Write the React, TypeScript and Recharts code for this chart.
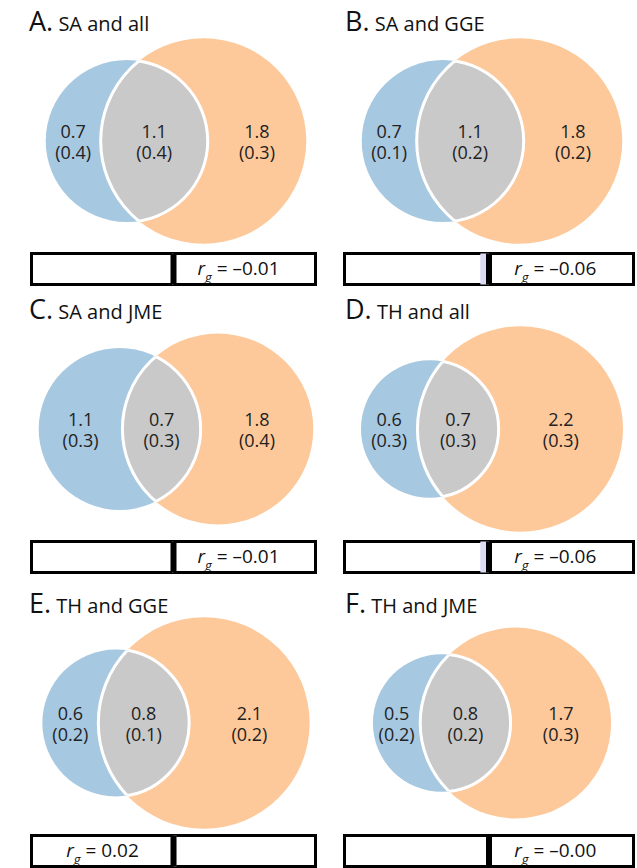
import React from 'react';
import {
  ScatterChart, Scatter, XAxis, YAxis, ZAxis, BarChart, Bar, ReferenceLine, ReferenceArea
} from 'recharts';

// panel data
const panelLetters = ['A', 'B', 'C', 'D', 'E', 'F'];
const panelTitles = ['SA and all', 'SA and GGE', 'SA and JME', 'TH and all', 'TH and GGE', 'TH and JME'];
const leftOnly = [0.7, 0.7, 1.1, 0.6, 0.6, 0.5];
const leftOnlySE = [0.4, 0.1, 0.3, 0.3, 0.2, 0.2];
const shared = [1.1, 1.1, 0.7, 0.7, 0.8, 0.8];
const sharedSE = [0.4, 0.2, 0.3, 0.3, 0.1, 0.2];
const rightOnly = [1.8, 1.8, 1.8, 2.2, 2.1, 1.7];
const rightOnlySE = [0.3, 0.2, 0.4, 0.3, 0.2, 0.3];
const rgValues = [-0.01, -0.06, -0.01, -0.06, 0.02, -0.0];

const BLUE = '#a7c8e1';
const ORANGE = '#fdc99b';
const GRAY = '#c9c9c9';
const LAVENDER = '#dcdcf7';
const FONT = '"Open Sans", sans-serif';

const VW = 316;
const VH = 240;
const colX = [0, 316];
const rowY = [0, 288, 582];
const barLeft = [30, 27];
const barWidth = [287, 292];
// pixels per unit length, per panel (panel E is drawn a little larger)
const panelPx = [107, 107, 107, 107, 110, 107];

const lensArea = (r1: number, r2: number, d: number) => {
  if (d >= r1 + r2) return 0;
  if (d <= Math.abs(r1 - r2)) return Math.PI * Math.min(r1, r2) ** 2;
  const a = r1 * r1 * Math.acos((d * d + r1 * r1 - r2 * r2) / (2 * d * r1));
  const b = r2 * r2 * Math.acos((d * d + r2 * r2 - r1 * r1) / (2 * d * r2));
  const c = 0.5 * Math.sqrt((-d + r1 + r2) * (d + r1 - r2) * (d - r1 + r2) * (d + r1 + r2));
  return a + b - c;
};

const solveDistance = (r1: number, r2: number, target: number) => {
  let lo = Math.abs(r1 - r2);
  let hi = r1 + r2;
  for (let k = 0; k < 60; k++) {
    const mid = (lo + hi) / 2;
    if (lensArea(r1, r2, mid) > target) lo = mid;
    else hi = mid;
  }
  return (lo + hi) / 2;
};

const fmt = (v: number) => v.toFixed(1);
const fmtRg = (v: number) => (v < 0 || Object.is(v, -0) ? '\u2013' : '') + Math.abs(v).toFixed(2);

const buildVenn = (i: number, px: number) => {
  const aL = leftOnly[i] + shared[i];
  const aR = rightOnly[i] + shared[i];
  const r1 = Math.sqrt(aL / Math.PI);
  const r2 = Math.sqrt(aR / Math.PI);
  const d = solveDistance(r1, r2, shared[i]);
  const mid = 176 / px;
  const xb = mid - (d + r2 - r1) / 2;
  const xo = xb + d;
  const cy = 121 / px;
  const labels = [
    { x: (xb - r1 + xo - r2) / 2, y: cy, area: 0, top: fmt(leftOnly[i]), bottom: `(${fmt(leftOnlySE[i])})` },
    { x: (xo - r2 + xb + r1) / 2, y: cy, area: 0, top: fmt(shared[i]), bottom: `(${fmt(sharedSE[i])})` },
    { x: (xb + r1 + xo + r2) / 2, y: cy, area: 0, top: fmt(rightOnly[i]), bottom: `(${fmt(rightOnlySE[i])})` },
  ];
  return {
    blue: [{ x: xb, y: cy, area: aL }],
    orange: [{ x: xo, y: cy, area: aR }],
    labels,
  };
};

const VennPanel = ({ i }: { i: number }) => {
  const px = panelPx[i];
  const v = buildVenn(i, px);
  const id = panelLetters[i];
  return (
    <ScatterChart width={VW} height={VH} margin={{ top: 0, right: 0, bottom: 0, left: 0 }}>
      <XAxis type="number" dataKey="x" domain={[0, VW / px]} hide allowDataOverflow />
      <YAxis type="number" dataKey="y" domain={[0, VH / px]} hide reversed allowDataOverflow />
      <ZAxis type="number" dataKey="area" domain={[0, 10]} range={[0, 10 * px * px]} />
      <Scatter
        data={v.blue}
        isAnimationActive={false}
        shape={(p: any) => (
          <g>
            <defs>
              <clipPath id={`clipB-${id}`}>
                <circle cx={p.cx} cy={p.cy} r={p.width / 2} />
              </clipPath>
            </defs>
            <circle cx={p.cx} cy={p.cy} r={p.width / 2} fill={BLUE} />
          </g>
        )}
      />
      <Scatter
        data={v.orange}
        isAnimationActive={false}
        shape={(p: any) => (
          <g>
            <defs>
              <clipPath id={`clipO-${id}`}>
                <circle cx={p.cx} cy={p.cy} r={p.width / 2} />
              </clipPath>
            </defs>
            <circle cx={p.cx} cy={p.cy} r={p.width / 2} fill={ORANGE} />
          </g>
        )}
      />
      <Scatter
        data={v.orange}
        isAnimationActive={false}
        shape={(p: any) => (
          <circle cx={p.cx} cy={p.cy} r={p.width / 2} fill={GRAY} stroke="#fff" strokeWidth={3}
            clipPath={`url(#clipB-${id})`} />
        )}
      />
      <Scatter
        data={v.blue}
        isAnimationActive={false}
        shape={(p: any) => (
          <circle cx={p.cx} cy={p.cy} r={p.width / 2} fill="none" stroke="#fff" strokeWidth={3}
            clipPath={`url(#clipO-${id})`} />
        )}
      />
      <Scatter
        data={v.labels}
        isAnimationActive={false}
        shape={(p: any) => (
          <g>
            <text x={p.cx} y={p.cy - 3} textAnchor="middle" fontFamily={FONT} fontSize={18} fill="#222">
              {p.payload.top}
            </text>
            <text x={p.cx} y={p.cy + 18} textAnchor="middle" fontFamily={FONT} fontSize={18} fill="#222">
              {p.payload.bottom}
            </text>
          </g>
        )}
      />
    </ScatterChart>
  );
};

const RgBar = ({ i }: { i: number }) => {
  const col = i % 2;
  const rg = rgValues[i];
  const neg = rg < 0 || Object.is(rg, -0);
  const data = [{ name: 'rg', value: rg }];
  return (
    <BarChart width={barWidth[col]} height={34} data={data} layout="vertical"
      margin={{ top: 1.5, right: 1.5, bottom: 1.5, left: 1.5 }} barCategoryGap={0}>
      <XAxis type="number" domain={[-1, 1]} hide allowDataOverflow />
      <YAxis type="category" dataKey="name" hide />
      <Bar dataKey="value" fill={LAVENDER} isAnimationActive={false} />
      <ReferenceArea
        x1={neg ? 0 : -1}
        x2={neg ? 1 : 0}
        fill="none"
        stroke="none"
        label={(p: any) => {
          const vb = p.viewBox || {};
          const cx = vb.x + vb.width / 2 - (neg ? 6 : 0);
          const by = vb.y + vb.height / 2 + 6;
          return (
            <text x={cx} y={by} textAnchor="middle" fontFamily={FONT} fontSize={19} fill="#111">
              <tspan fontStyle="italic">r</tspan>
              <tspan fontStyle="italic" fontSize={13} dy={7}>g</tspan>
              <tspan dy={-7}>{` = ${fmtRg(rg)}`}</tspan>
            </text>
          );
        }}
      />
      <ReferenceArea x1={-1} x2={1} fill="none" stroke="#000" strokeWidth={3} />
      <ReferenceLine x={0} stroke="#000" strokeWidth={6} />
    </BarChart>
  );
};

export default function App() {
  return (
    <div style={{ position: 'absolute', left: 0, top: 0, width: 637, height: 868, background: '#fff', overflow: 'hidden', fontFamily: FONT }}>
      <style>{'body{margin:0}'}</style>
      {panelLetters.map((letter, i) => {
        const col = i % 2;
        const row = Math.floor(i / 2);
        const x0 = colX[col];
        const y0 = rowY[row];
        return (
          <React.Fragment key={letter}>
            <div style={{ position: 'absolute', left: x0 + 29, top: y0 + 4, lineHeight: '34px', fontSize: 27, color: '#111', whiteSpace: 'nowrap' }}>
              {letter}.<span style={{ fontSize: 20 }}> {panelTitles[i]}</span>
            </div>
            <div style={{ position: 'absolute', left: x0, top: y0 + 20 }}>
              <VennPanel i={i} />
            </div>
            <div style={{ position: 'absolute', left: x0 + barLeft[col], top: y0 + 252 }}>
              <RgBar i={i} />
            </div>
          </React.Fragment>
        );
      })}
    </div>
  );
}
